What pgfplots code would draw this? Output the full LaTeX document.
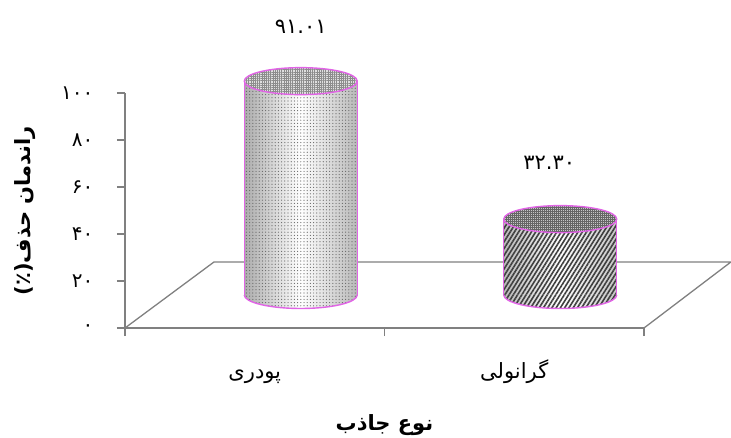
\documentclass[border=0pt]{standalone}
\usepackage{fontspec}
\usepackage{pgfplots}
\pgfplotsset{compat=1.18}
\usetikzlibrary{patterns.meta}
\TeXXeTstate=1
\newfontfamily\arabicfont[Script=Arabic]{DejaVu Sans}
\definecolor{edge}{RGB}{225,100,230}
\definecolor{axgray}{RGB}{128,128,128}
\tikzset{
  shadeA/.style={left color=gray!65, right color=gray!55, middle color=white},
  shadeB/.style={left color=gray!55, right color=gray!45, middle color=white},
  patA/.style={pattern={Dots[distance=3.2pt,radius=0.6pt]}, pattern color=black!60},
  patB/.style={pattern={Lines[angle=58,distance=3.6pt,line width=1.6pt]}, pattern color=black!75},
}
\pgfdeclareplotmark{topA}{%
  \path[draw=none, fill=gray!25, postaction={draw=none, pattern={Hatch[angle=0,distance=2.2pt,line width=0.45pt]}, pattern color=black!45}, postaction={draw=edge,line width=1.4pt}] (0pt,0pt) ellipse [x radius=56.5pt, y radius=13.5pt];}
\pgfdeclareplotmark{topB}{%
  \path[draw=none, fill=gray!45, postaction={draw=none, pattern={Hatch[angle=0,distance=2pt,line width=0.5pt]}, pattern color=black!60}, postaction={draw=edge,line width=1.4pt}] (0pt,0pt) ellipse [x radius=56.5pt, y radius=13.5pt];}
\pgfdeclareplotmark{botA}{%
  \path[draw=none, shadeA] (-56.5pt,0.5pt) -- (-56.5pt,0pt) arc[start angle=180,end angle=360,x radius=56.5pt,y radius=13.5pt] -- (56.5pt,0.5pt) -- cycle;
  \path[draw=none, patA] (-56.5pt,0.5pt) -- (-56.5pt,0pt) arc[start angle=180,end angle=360,x radius=56.5pt,y radius=13.5pt] -- (56.5pt,0.5pt) -- cycle;
  \draw[edge,line width=1.4pt] (-56.5pt,0pt) arc[start angle=180,end angle=360,x radius=56.5pt,y radius=13.5pt];}
\pgfdeclareplotmark{botB}{%
  \path[draw=none, shadeB] (-56.5pt,0.5pt) -- (-56.5pt,0pt) arc[start angle=180,end angle=360,x radius=56.5pt,y radius=13.5pt] -- (56.5pt,0.5pt) -- cycle;
  \path[draw=none, patB] (-56.5pt,0.5pt) -- (-56.5pt,0pt) arc[start angle=180,end angle=360,x radius=56.5pt,y radius=13.5pt] -- (56.5pt,0.5pt) -- cycle;
  \draw[edge,line width=1.4pt] (-56.5pt,0pt) arc[start angle=180,end angle=360,x radius=56.5pt,y radius=13.5pt];}
\begin{document}
\begin{tikzpicture}
\useasboundingbox (0,0) rectangle (731pt,437pt);
\begin{axis}[
  at={(125pt,109pt)}, anchor=south west,
  scale only axis, width=519pt, height=235pt,
  xmin=0, xmax=2, ymin=0, ymax=100,
  clip=false,
  axis x line*=bottom, axis y line*=left,
  axis line style={axgray, line width=1.3pt},
  every tick/.style={axgray, line width=1.3pt},
  tick align=outside, major tick length=8pt,
  xtick={0,1,2}, xticklabels={},
  extra x ticks={0.5,1.5},
  extra x tick labels={پودری,گرانولی},
  extra x tick style={major tick length=0pt, xticklabel style={anchor=base, yshift=-50pt}},
  xticklabel style={font=\arabicfont\fontsize{21}{24}\selectfont},
  ytick={0,20,40,60,80,100},
  yticklabels={۰,۲۰,۴۰,۶۰,۸۰,۱۰۰},
  yticklabel style={font=\arabicfont\fontsize{20}{23}\selectfont, xshift=-20pt},
  xlabel={\arabicfont\bfseries\beginR نوع جاذب\endR},
  xlabel style={at={(axis description cs:0.5,0)}, anchor=center, yshift=-97pt, font=\fontsize{21}{24}\selectfont},
  ylabel={\arabicfont\bfseries (٪)\beginR راندمان حذف\endR},
  ylabel style={at={(axis description cs:-0.1927,0.5)}, anchor=center, font=\fontsize{21}{24}\selectfont},
]
\addplot[axgray, line width=1.3pt] coordinates {(0,0) (0.343,28.1) (2.335,28.1) (2,0)};
\end{axis}
\begin{axis}[
  at={(171pt,142pt)}, anchor=south west,
  scale only axis, width=519pt, height=235pt,
  xmin=0, xmax=2, ymin=0, ymax=100,
  clip=false, axis lines=none,
  every axis plot/.append style={ybar, bar width=113pt, bar shift=0pt},
]
% powdery
\addplot[only marks, mark=botA] coordinates {(0.5,0)};
\addplot[draw=none, shadeA] coordinates {(0.5,91.01)};
\addplot[draw=none, patA] coordinates {(0.5,91.01)};
\addplot[draw=none, fill=edge, bar width=1.4pt, bar shift=-56.5pt] coordinates {(0.5,91.01)};
\addplot[draw=none, fill=edge, bar width=1.4pt, bar shift=56.5pt] coordinates {(0.5,91.01)};
\addplot[only marks, mark=topA, nodes near coords={\arabicfont ۹۱.۰۱},
  every node near coord/.append style={font=\arabicfont\fontsize{21}{24}\selectfont, anchor=center, yshift=54pt, xshift=0pt}] coordinates {(0.5,91.01)};
% granular
\addplot[only marks, mark=botB] coordinates {(1.5,0)};
\addplot[draw=none, shadeB] coordinates {(1.5,32.30)};
\addplot[draw=none, patB] coordinates {(1.5,32.30)};
\addplot[draw=none, fill=edge, bar width=1.4pt, bar shift=-56.5pt] coordinates {(1.5,32.30)};
\addplot[draw=none, fill=edge, bar width=1.4pt, bar shift=56.5pt] coordinates {(1.5,32.30)};
\addplot[only marks, mark=topB, nodes near coords={\arabicfont ۳۲.۳۰},
  every node near coord/.append style={font=\arabicfont\fontsize{21}{24}\selectfont, anchor=center, yshift=56pt, xshift=-11pt}] coordinates {(1.5,32.30)};
\end{axis}
\end{tikzpicture}
\end{document}
